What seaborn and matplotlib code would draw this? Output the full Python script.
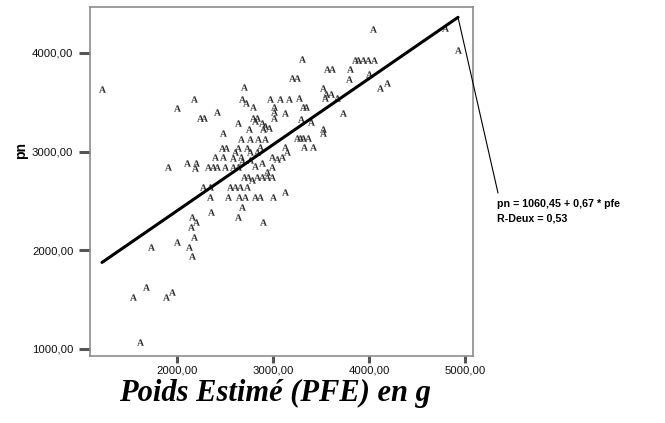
import numpy as np
import pandas as pd
import matplotlib
matplotlib.use("Agg")
import matplotlib.pyplot as plt
import seaborn as sns

# --- data (poids estimé vs poids né) ---
pfe = [1219, 1542, 1677, 1885, 1948, 1615, 1729, 2000, 1906, 2125, 2156, 2177, 2156, 2198, 2146, 2354,
       2271, 2344, 2552, 2604, 2656, 2729,
       2344, 2531, 2646, 2708, 2813, 2865, 3000, 2677, 2635, 2896, 3125,
       2698, 2740, 2781, 2833, 2885, 2938, 2990, 2938, 2990,
       2104, 2198, 2188, 2323, 2375, 2417, 2500, 2583, 2635, 2677, 2813, 2885,
       2396, 2479, 2583, 2667, 2760, 2990, 3042, 3094,
       2469, 2510, 2604, 2635, 2729, 2760, 2833, 2865, 3125, 3146, 3323, 3417,
       2667, 2760, 2844, 2917, 3250, 3281, 3313, 3365, 3521, 3521, 2479,
       2750, 2896, 2958, 2917, 2635, 2885, 2813,
       2240, 2281, 2792, 2833, 3010, 3292, 3396,
       2417, 3010, 3125, 3729, 2000, 2792, 3010, 3313, 3344, 2719,
       2177, 2677, 2969, 3073, 3167, 3271, 3542, 3667,
       2698, 3521, 3552, 3604, 3198, 3250, 3792, 4000, 3563, 3615, 3802,
       3302, 3854, 3885, 3938, 3990, 4052, 4042, 4792, 4927, 4115, 4188]
pn = [3635, 1527, 1628, 1527, 1578, 1071, 2034, 2084, 2845, 2034, 1943, 2135, 2338, 2287, 2236, 2388,
      2642, 2642, 2642, 2642, 2642, 2642,
      2541, 2541, 2541, 2541, 2541, 2541, 2541, 2439, 2338, 2287, 2591,
      2743, 2743, 2713, 2743, 2743, 2743, 2743, 2794, 2845,
      2885, 2885, 2834, 2845, 2845, 2845, 2845, 2845, 2845, 2905, 2855, 2885,
      2946, 2946, 2936, 2946, 2916, 2946, 2926, 2946,
      3037, 3037, 2997, 3037, 3037, 2997, 2997, 3047, 3047, 2997, 3047, 3047,
      3128, 3128, 3128, 3128, 3138, 3138, 3138, 3138, 3230, 3189, 3189,
      3230, 3230, 3240, 3260, 3291, 3291, 3311,
      3341, 3341, 3341, 3341, 3341, 3331, 3301,
      3402, 3402, 3392, 3392, 3443, 3453, 3453, 3453, 3453, 3493,
      3534, 3534, 3534, 3534, 3534, 3544, 3544, 3544,
      3655, 3645, 3584, 3584, 3747, 3747, 3736, 3787, 3838, 3838, 3838,
      3939, 3929, 3929, 3929, 3929, 3929, 4243, 4253, 4030, 3645, 3696]

intercept = 1060.45
slope = 0.67
x_ticks = [2000, 3000, 4000, 5000]
y_ticks = [1000, 2000, 3000, 4000]

df = pd.DataFrame({"pfe": pfe, "pn": pn})

sns.set_style("white")
plt.rcParams["font.family"] = ["Liberation Sans", "DejaVu Sans"]
plt.rcParams["text.color"] = "black"
plt.rcParams["mathtext.fontset"] = "custom"
plt.rcParams["mathtext.rm"] = "Liberation Serif:bold"

fig = plt.figure(figsize=(6.65, 4.23), dpi=100)
ax = fig.add_axes([90 / 665, 1 - 356 / 423, 383 / 665, 349 / 423])

sns.scatterplot(data=df, x="pfe", y="pn", marker=r"$\mathrm{A}$", s=24,
                color="#2a2a2a", linewidth=0, ax=ax)

# droite de régression
x_fit = np.array([df["pfe"].min(), df["pfe"].max()])
y_fit = intercept + slope * x_fit
sns.lineplot(x=x_fit, y=y_fit, color="black", linewidth=2.2, ax=ax)

ax.set_xlim(1094, 5083)
ax.set_ylim(929, 4466)
ax.set_xticks(x_ticks)
ax.set_xticklabels([f"{t},00" for t in x_ticks])
ax.set_yticks(y_ticks)
ax.set_yticklabels([f"{t},00" for t in y_ticks])
ax.tick_params(axis="both", direction="out", width=2.2, color="#555555",
               labelsize=8.2, labelcolor="#111111", bottom=True, left=True)
ax.tick_params(axis="y", length=8, pad=4)
ax.tick_params(axis="x", length=5, pad=2)
for sp in ax.spines.values():
    sp.set_color("#8c8c8c")
    sp.set_linewidth(1.2)
ax.set_xlabel("")
ax.set_ylabel("")

# équation
ax.annotate("", xy=(x_fit[1], y_fit[1]), xycoords="data",
            xytext=(498 / 665, 1 - 193 / 423), textcoords="figure fraction",
            arrowprops=dict(arrowstyle="-", color="black", lw=0.8, shrinkA=0, shrinkB=0),
            annotation_clip=False)
fig.text(497 / 665, 1 - 204 / 423, "pn = 1060,45 + 0,67 * pfe", fontsize=7.7,
         fontweight="bold", va="center", ha="left")
fig.text(497 / 665, 1 - 218 / 423, "R-Deux = 0,53", fontsize=7.7,
         fontweight="bold", va="center", ha="left")

fig.text(275 / 665, 1 - 393 / 423, "Poids Estimé (PFE) en g", family="Liberation Serif",
         fontweight="bold", style="italic", fontsize=22, ha="center", va="center")
fig.text(21 / 665, 1 - 150 / 423, "pn", rotation=90, fontweight="bold", fontsize=10,
         ha="center", va="center")

fig.savefig("out.png", dpi=100)
